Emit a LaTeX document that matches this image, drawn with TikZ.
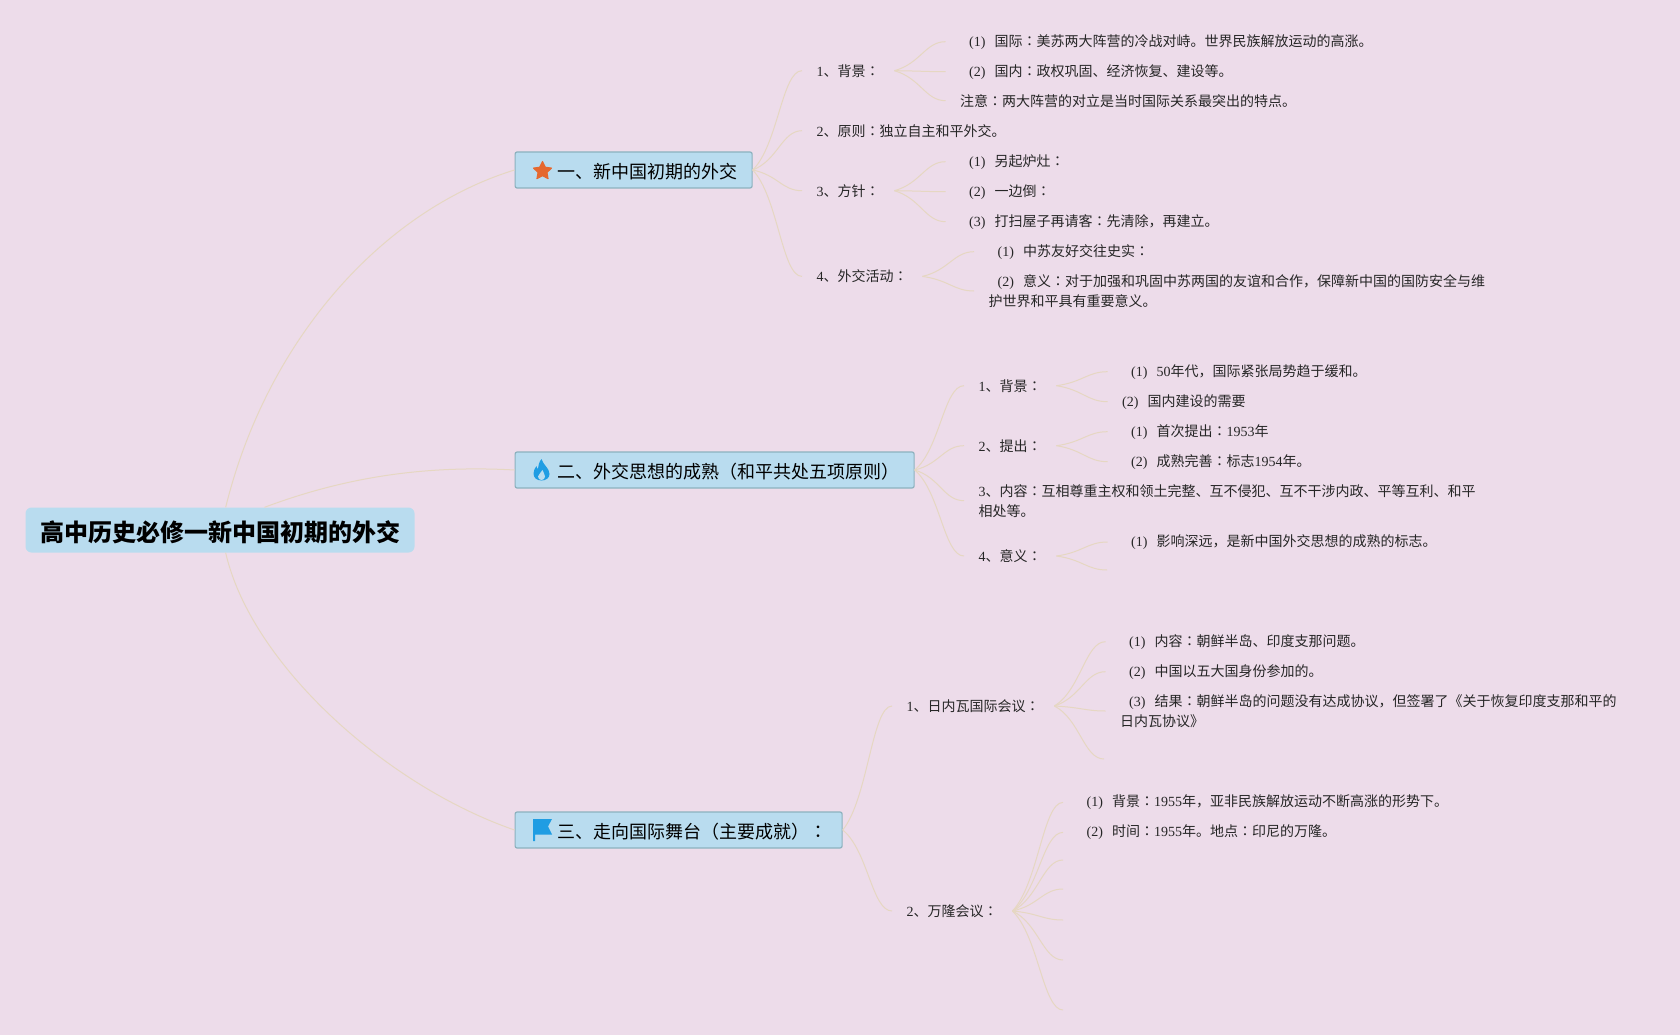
\documentclass[tikz,border=0pt]{standalone}
\usepackage{fontspec}
\setmainfont{Noto Sans CJK SC}
\newfontfamily\lat{Liberation Serif}
\newfontfamily\jp{Noto Sans CJK JP}
\usetikzlibrary{calc,shapes.geometric}
\definecolor{pagepink}{HTML}{EDDCEA}
\definecolor{boxblue}{HTML}{B9DCEF}
\definecolor{boxedge}{HTML}{8CB1BE}
\definecolor{linktan}{HTML}{E6D7C2}
\definecolor{iconblue}{HTML}{1F9DE3}
\definecolor{iconred}{HTML}{E5682F}
\newcommand{\nr}[1]{{\lat #1}}
\newcommand{\cl}{{\jp ：}}
\newcommand{\itm}[1]{\hspace*{9pt}{\lat(#1)}\hspace{9pt}}
\begin{document}
\begin{tikzpicture}[x=1pt,y=-1pt,
    rootbox/.style={rectangle,rounded corners=6pt,fill=boxblue,inner xsep=14.5pt,inner ysep=0pt,minimum height=45pt,font=\fontsize{24}{30}\selectfont\bfseries},
    topicbox/.style={rectangle,draw=boxedge,line width=1.2pt,rounded corners=2pt,fill=boxblue,anchor=west,inner xsep=14.5pt,inner ysep=0pt,minimum height=36pt,font=\fontsize{18}{24}\selectfont},
    txt/.style={anchor=west,align=left,inner xsep=14.5pt,inner ysep=0pt,text=black!85,font=\fontsize{14}{20}\selectfont},
    txtlow/.style={txt,yshift=-1pt},
    link/.style={draw=linktan,line width=1pt}]
    \useasboundingbox[fill=pagepink] (0,0) rectangle (1680,1035);
    % root and topics
    \node[rootbox] (root) at (220,530) {\rule{0pt}{25.5pt}高中历史必修一新中国初期的外交};
    \node[topicbox] (box1) at (514.5,170) {\hspace*{28pt}\rule{0pt}{18pt}一、新中国初期的外交};
    \node[topicbox] (box2) at (514.5,470) {\hspace*{28pt}\rule{0pt}{18pt}二、外交思想的成熟（和平共处五项原则）};
    \node[topicbox] (box3) at (514.5,830) {\hspace*{28pt}\rule{0pt}{18pt}三、走向国际舞台（主要成就）\cl};
    % icons
    \node[star,star points=5,star point ratio=2,fill=iconred,draw=iconred,line join=round,line width=1pt,inner sep=0pt,minimum size=19pt] (staricon) at (542.5,171) {};
    \fill[iconblue] (541.5,459) .. controls (543,465) and (549.5,468) .. (549.5,474) .. controls (549.5,478) and (546,480.5) .. (541.5,480.5) .. controls (537,480.5) and (533.5,478) .. (533.5,473.5) .. controls (533.5,470.5) and (535,468) .. (536.5,466) .. controls (536.5,467.5) and (537,468.5) .. (538,469) .. controls (538.5,465) and (539,462) .. (541.5,459) -- cycle;
    \fill[boxblue] (542.5,470) .. controls (543,472.5) and (545,474) .. (545,476.5) .. controls (545,478.5) and (543.5,480) .. (541.5,480) .. controls (539.5,480) and (538,478.5) .. (538,476.5) .. controls (538,474) and (541.5,473) .. (542.5,470) -- cycle;
    \fill[iconblue] (533,819) -- (552,819) -- (548,826.5) -- (552,834.5) -- (535,834.5) -- (535,841) -- (533,841) -- cycle;
    % first topic
    \node[txt] (a1) at (802,70.7) {\nr{1}、背景\cl};
    \node[txt] (a2) at (802,130.7) {\nr{2}、原则\cl 独立自主和平外交。};
    \node[txt] (a3) at (802,190.7) {\nr{3}、方针\cl};
    \node[txt] (a4) at (802,276.4) {\nr{4}、外交活动\cl};
    \node[txtlow] (a11) at (945.5,40.7) {\itm{1}国际\cl 美苏两大阵营的冷战对峙。世界民族解放运动的高涨。};
    \node[txtlow] (a12) at (945.5,70.7) {\itm{2}国内\cl 政权巩固、经济恢复、建设等。};
    \node[txt] (a13) at (945.5,100.7) {注意\cl 两大阵营的对立是当时国际关系最突出的特点。};
    \node[txtlow] (a31) at (945.5,160.7) {\itm{1}另起炉灶\cl};
    \node[txtlow] (a32) at (945.5,190.7) {\itm{2}一边倒\cl};
    \node[txtlow] (a33) at (945.5,220.7) {\itm{3}打扫屋子再请客\cl 先清除，再建立。};
    \node[txtlow] (a41) at (974,250.7) {\itm{1}中苏友好交往史实\cl};
    \node[txt] (a42) at (974,291) {\itm{2}意义\cl 对于加强和巩固中苏两国的友谊和合作，保障新中国的国防安全与维\\护世界和平具有重要意义。};
    % second topic
    \node[txt] (b1) at (964,385.7) {\nr{1}、背景\cl};
    \node[txt] (b2) at (964,445.7) {\nr{2}、提出\cl};
    \node[txt] (b3) at (964,500.7) {\nr{3}、内容\cl 互相尊重主权和领土完整、互不侵犯、互不干涉内政、平等互利、和平\\相处等。};
    \node[txt] (b4) at (964,556) {\nr{4}、意义\cl};
    \node[txtlow] (b11) at (1107.5,370.7) {\itm{1}\nr{50}年代，国际紧张局势趋于缓和。};
    \node[txtlow] (b12) at (1107.5,400.7) {{\lat(2)}\hspace{9pt}国内建设的需要};
    \node[txtlow] (b21) at (1107.5,430.7) {\itm{1}首次提出\cl\nr{1953}年};
    \node[txtlow] (b22) at (1107.5,460.7) {\itm{2}成熟完善\cl 标志\nr{1954}年。};
    \node[txtlow] (b41) at (1107.5,541) {\itm{1}影响深远，是新中国外交思想的成熟的标志。};
    \coordinate (b42) at (1107,570);
    % third topic
    \node[txt] (c1) at (892,706) {\nr{1}、日内瓦国际会议\cl};
    \node[txt] (c2) at (892,911) {\nr{2}、万隆会议\cl};
    \node[txtlow] (c11) at (1105.5,640.7) {\itm{1}内容\cl 朝鲜半岛、印度支那问题。};
    \node[txtlow] (c12) at (1105.5,670.7) {\itm{2}中国以五大国身份参加的。};
    \node[txt] (c13) at (1105.5,711) {\itm{3}结果\cl 朝鲜半岛的问题没有达成协议，但签署了《关于恢复印度支那和平的\\日内瓦协议》};
    \coordinate (c14) at (1104,759);
    \node[txtlow] (c21) at (1063,801.4) {\itm{1}背景\cl\nr{1955}年，亚非民族解放运动不断高涨的形势下。};
    \node[txtlow] (c22) at (1063,831.4) {\itm{2}时间\cl\nr{1955}年。地点\cl 印尼的万隆。};
    \coordinate (c23) at (1063,860);
    \coordinate (c24) at (1063,889);
    \coordinate (c25) at (1063,920);
    \coordinate (c26) at (1063,960);
    \coordinate (c27) at (1063,1010);
    % links
    \draw[link] (root.76) .. controls +(42,-170) and +(-130,40) .. (box1.west);
    \draw[link] (root.27) .. controls +(80,-30) and +(-90,-5) .. (box2.west);
    \draw[link] (root.284) .. controls +(25,110) and +(-130,-45) .. (box3.west);
    \foreach \a/\b in {box1.east/a1.west,box1.east/a2.west,box1.east/a3.west,box1.east/a4.west,
      box2.east/b1.west,box2.east/b2.west,box2.east/b3.west,box2.east/b4.west,
      box3.east/c1.west,box3.east/c2.west,
      a1.east/a11.west,a1.east/a12.west,a1.east/a13.west,a3.east/a31.west,a3.east/a32.west,a3.east/a33.west,
      a4.east/a41.west,a4.east/a42.west,b1.east/b11.west,b1.east/b12.west,b2.east/b21.west,b2.east/b22.west,
      b4.east/b41.west,b4.east/b42,c1.east/c11.west,c1.east/c12.west,c1.east/c13.west,c1.east/c14,
      c2.east/c21.west,c2.east/c22.west,c2.east/c23,c2.east/c24,c2.east/c25,c2.east/c26,c2.east/c27}
      \draw[link] (\a) .. controls ($(\a)!.35!(\a -| \b)!.25!(\b)$) and ($(\b)+(-20,0)$) .. (\b);
  \end{tikzpicture}
\end{document}
